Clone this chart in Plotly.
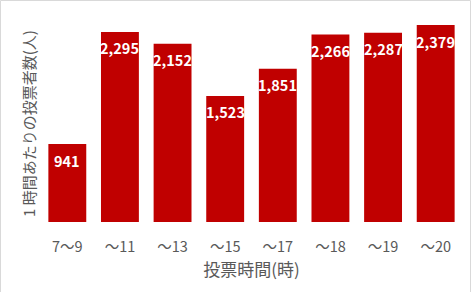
import plotly.graph_objects as go

categories = ["7～9", "～11", "～13", "～15", "～17", "～18", "～19", "～20"]
voters_per_hour = [941, 2295, 2152, 1523, 1851, 2266, 2287, 2379]
label_texts = [f"{v:,}" for v in voters_per_hour]

x_title = "投票時間(時)"
y_title = "1 時間あたりの投票者数(人)"

FONT = "Noto Sans CJK JP"
GRAY = "#595959"
BAR = "#c00000"

W, H = 474, 292
L, R, T, B = 41, 12, 15, 70
pw, ph = W - L - R, H - T - B

fig = go.Figure()
fig.add_trace(go.Bar(
    x=categories,
    y=voters_per_hour,
    marker=dict(color=BAR, line=dict(width=0)),
    hoverinfo="skip",
))

for c, v, t in zip(categories, voters_per_hour, label_texts):
    fig.add_annotation(
        x=c, y=v, xref="x", yref="y",
        text=f"<b>{t}</b>", showarrow=False,
        yanchor="middle", yshift=-16,
        font=dict(family=FONT, size=14.5, color="white"),
    )

# y axis title placed to match the reference position
fig.add_annotation(
    xref="paper", yref="paper",
    x=(28 - L) / pw, y=(H - B - 124) / ph,
    xanchor="center", yanchor="middle",
    text=y_title, textangle=-90, showarrow=False,
    font=dict(family=FONT, size=15, color=GRAY),
)

fig.add_shape(
    type="rect", xref="paper", yref="paper",
    x0=(0.5 - L) / pw, x1=(470.5 - L) / pw,
    y0=(H - B - 320) / ph, y1=(H - B - 0.5) / ph,
    line=dict(color="#d9d9d9", width=1), fillcolor="rgba(0,0,0,0)",
    layer="below",
)

fig.update_layout(
    width=W, height=H,
    margin=dict(l=L, r=R, t=T, b=B, autoexpand=False),
    paper_bgcolor="white", plot_bgcolor="white",
    bargap=0.28,
    showlegend=False,
    font=dict(family=FONT, color=GRAY),
    xaxis=dict(
        type="category",
        showline=False, showgrid=False, zeroline=False,
        ticks="outside", ticklen=12, tickcolor="rgba(0,0,0,0)",
        tickfont=dict(family=FONT, size=14.5, color=GRAY),
        title=dict(text=x_title, font=dict(family=FONT, size=17, color=GRAY), standoff=3),
        automargin=False,
    ),
    yaxis=dict(
        range=[0, 2500],
        showline=False, showgrid=False, zeroline=False,
        showticklabels=False, ticks="",
        automargin=False,
    ),
)

fig.write_html("out.html")
